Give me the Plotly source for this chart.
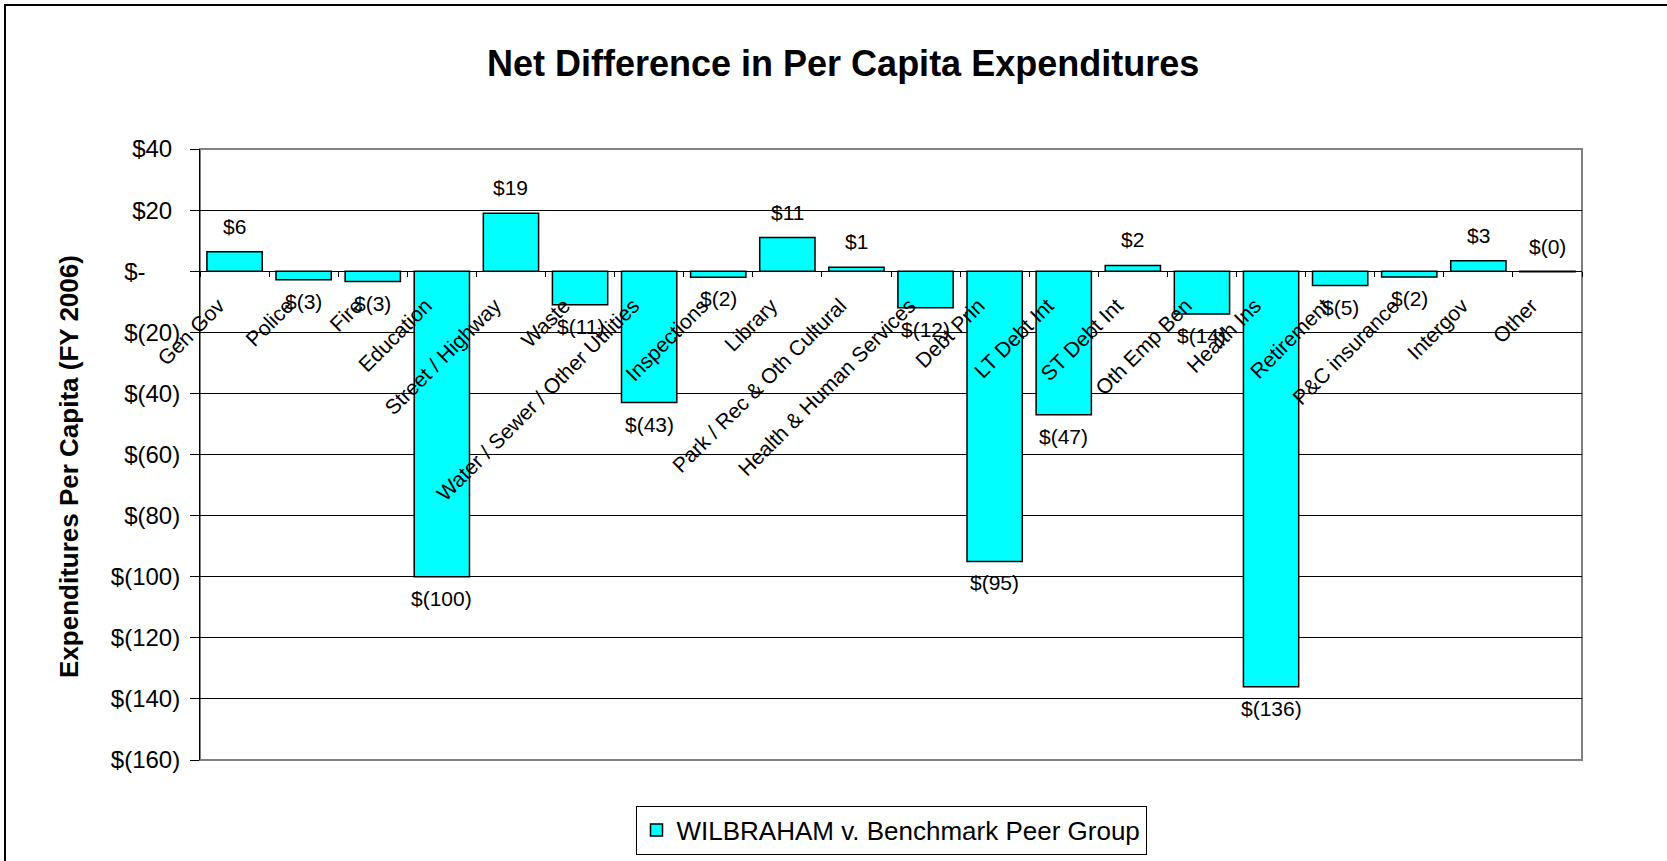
import plotly.graph_objects as go

# Spending categories and net per-capita difference vs. the peer group (USD)
categories = [
    "Gen Gov", "Police", "Fire", "Education", "Street / Highway", "Waste",
    "Water / Sewer / Other Utilities", "Inspections", "Library",
    "Park / Rec & Oth Cultural", "Health & Human Services", "Debt Prin",
    "LT Debt Int", "ST Debt Int", "Oth Emp Ben", "Health Ins", "Retirement",
    "P&C insurance", "Intergov", "Other",
]
net_difference = [
    6.4, -2.8, -3.4, -100, 19, -11, -43, -2, 11, 1.3,
    -12, -95, -47, 1.9, -14, -136, -4.7, -1.9, 3.4, -0.2,
]
series_name = "WILBRAHAM v. Benchmark Peer Group"

y_tick_values = [40, 20, 0, -20, -40, -60, -80, -100, -120, -140, -160]

Y_MIN, Y_MAX = -160, 40
FONT = "Liberation Sans, Arial, sans-serif"

# Figure geometry (pixels)
FIG_W, FIG_H = 1667, 861
L, R, T, B = 200, 85, 149, 101
PW, PH = FIG_W - L - R, FIG_H - T - B


def px_x(px):
    return (px - L) / PW


def px_y(py):
    return (FIG_H - B - py) / PH


def money(v):
    r = round(abs(v))
    return f"${r}" if v >= 0 else f"$({r})"


def pad(s):
    # invisible filler keeps digits aligned like an accounting format
    return f"<span style='color:rgba(0,0,0,0)'>{s}</span>"


def accounting(v):
    if v == 0:
        return "$-" + pad("00)")
    if v > 0:
        return f"${v}" + pad(")")
    return f"$({abs(v)})"


y_tick_labels = [accounting(v) for v in y_tick_values]

fig = go.Figure()
fig.add_trace(go.Bar(
    x=categories,
    y=net_difference,
    name=series_name,
    marker=dict(color="#00FFFF", line=dict(color="#000000", width=1.5)),
    showlegend=True,
    hoverinfo="x+y",
))

annotations = []
# value labels at the outer end of each bar
for cat, v in zip(categories, net_difference):
    above = v >= 0 or round(v) == 0
    annotations.append(dict(
        x=cat, y=v, xref="x", yref="y", text=money(v), showarrow=False,
        yanchor="bottom" if above else "top",
        yshift=12 if above else -8,
        font=dict(family=FONT, size=21, color="#000000"),
    ))

# chart title
annotations.append(dict(
    x=px_x(843), y=px_y(63), xref="paper", yref="paper",
    text="<b>Net Difference in Per Capita Expenditures</b>",
    showarrow=False, xanchor="center", yanchor="middle",
    font=dict(family=FONT, size=36, color="#000000"),
))
# value axis title
annotations.append(dict(
    x=px_x(69), y=px_y(467), xref="paper", yref="paper",
    text="<b>Expenditures Per Capita (FY 2006)</b>", textangle=-90,
    showarrow=False, xanchor="center", yanchor="middle",
    font=dict(family=FONT, size=26, color="#000000"),
))

shapes = [
    # plot area frame
    dict(type="rect", xref="paper", yref="paper", x0=0, y0=0, x1=1, y1=1,
         line=dict(color="#808080", width=2), layer="below"),
    # chart border
    dict(type="rect", xref="paper", yref="paper",
         x0=px_x(5), y0=px_y(5), x1=px_x(1700), y1=px_y(900),
         line=dict(color="#000000", width=2)),
]

fig.update_layout(
    width=FIG_W, height=FIG_H,
    margin=dict(l=L, r=R, t=T, b=B, autoexpand=False),
    paper_bgcolor="#FFFFFF", plot_bgcolor="#FFFFFF",
    bargap=0.2,
    font=dict(family=FONT, color="#000000"),
    annotations=annotations,
    shapes=shapes,
    legend=dict(
        x=0.5, xanchor="center", y=px_y(830), yanchor="middle",
        orientation="h", bordercolor="#000000", borderwidth=1,
        bgcolor="#FFFFFF", itemwidth=30,
        font=dict(family=FONT, size=26, color="#000000"),
    ),
    xaxis=dict(
        type="category",
        anchor="free",
        position=(0 - Y_MIN) / (Y_MAX - Y_MIN),
        showline=True, linecolor="#000000", linewidth=1,
        ticks="outside", tickson="boundaries", ticklen=5,
        tickcolor="#000000", tickwidth=1,
        tickangle=-45,
        ticklabelshift=-16, ticklabelstandoff=13,
        tickfont=dict(family=FONT, size=21, color="#000000"),
        showgrid=False, zeroline=False,
    ),
    yaxis=dict(
        range=[Y_MIN, Y_MAX],
        tickvals=y_tick_values, ticktext=y_tick_labels,
        showline=True, linecolor="#000000", linewidth=1,
        ticks="outside", ticklen=9, tickcolor="#000000", tickwidth=1,
        ticklabelstandoff=5,
        tickfont=dict(family=FONT, size=24, color="#000000"),
        showgrid=True, gridcolor="#000000", gridwidth=1,
        zeroline=True, zerolinecolor="#000000", zerolinewidth=1,
        domain=[0, 1],
    ),
)

fig.write_html("out.html")
